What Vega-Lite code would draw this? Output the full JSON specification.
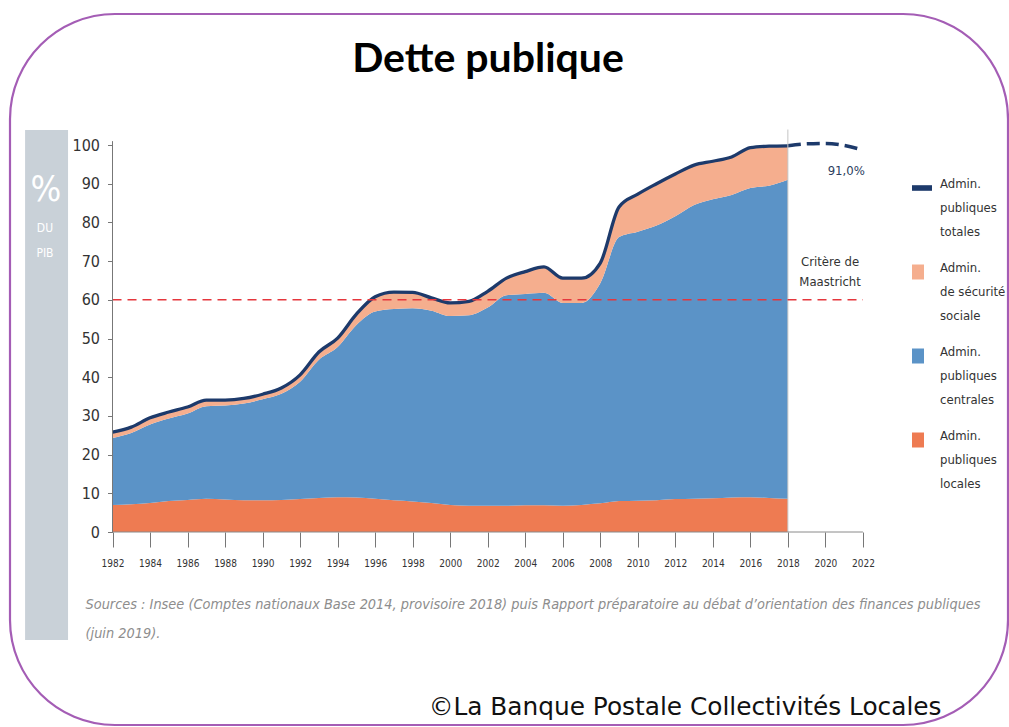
{
  "$schema": "https://vega.github.io/schema/vega-lite/v6.json",
  "width": 998,
  "height": 711,
  "autosize": {"type": "none"},
  "padding": {"left": 10, "top": 14, "right": 1, "bottom": 2},
  "background": "white",
  "title": {
    "text": "Dette publique",
    "font": "Lato",
    "fontSize": 41,
    "fontWeight": "bold",
    "color": "#000000",
    "anchor": "middle",
    "frame": "group",
    "offset": -67,
    "dx": -21
  },
  "datasets": {
    "debt": [
      {"year": 1982, "locales": 7.0, "publiques_centrales": 17.3, "securite_sociale": 1.5, "total": 25.8},
      {"year": 1983, "locales": 7.2, "publiques_centrales": 18.4, "securite_sociale": 1.5, "total": 27.1},
      {"year": 1984, "locales": 7.5, "publiques_centrales": 20.3, "securite_sociale": 1.7, "total": 29.5},
      {"year": 1985, "locales": 8.0, "publiques_centrales": 21.3, "securite_sociale": 1.7, "total": 31.0},
      {"year": 1986, "locales": 8.3, "publiques_centrales": 22.3, "securite_sociale": 1.7, "total": 32.3},
      {"year": 1987, "locales": 8.6, "publiques_centrales": 23.9, "securite_sociale": 1.6, "total": 34.1},
      {"year": 1988, "locales": 8.4, "publiques_centrales": 24.3, "securite_sociale": 1.4, "total": 34.1},
      {"year": 1989, "locales": 8.2, "publiques_centrales": 25.0, "securite_sociale": 1.3, "total": 34.5},
      {"year": 1990, "locales": 8.2, "publiques_centrales": 26.1, "securite_sociale": 1.3, "total": 35.6},
      {"year": 1991, "locales": 8.3, "publiques_centrales": 27.4, "securite_sociale": 1.5, "total": 37.2},
      {"year": 1992, "locales": 8.5, "publiques_centrales": 30.3, "securite_sociale": 1.8, "total": 40.6},
      {"year": 1993, "locales": 8.8, "publiques_centrales": 35.7, "securite_sociale": 2.0, "total": 46.5},
      {"year": 1994, "locales": 9.0, "publiques_centrales": 38.8, "securite_sociale": 2.3, "total": 50.1},
      {"year": 1995, "locales": 8.9, "publiques_centrales": 44.6, "securite_sociale": 2.8, "total": 56.3},
      {"year": 1996, "locales": 8.6, "publiques_centrales": 48.4, "securite_sociale": 3.8, "total": 60.8},
      {"year": 1997, "locales": 8.2, "publiques_centrales": 49.4, "securite_sociale": 4.4, "total": 62.0},
      {"year": 1998, "locales": 7.9, "publiques_centrales": 49.9, "securite_sociale": 4.1, "total": 61.9},
      {"year": 1999, "locales": 7.5, "publiques_centrales": 49.7, "securite_sociale": 3.3, "total": 60.5},
      {"year": 2000, "locales": 7.0, "publiques_centrales": 48.8, "securite_sociale": 3.4, "total": 59.2},
      {"year": 2001, "locales": 6.8, "publiques_centrales": 49.2, "securite_sociale": 3.6, "total": 59.6},
      {"year": 2002, "locales": 6.8, "publiques_centrales": 51.2, "securite_sociale": 4.2, "total": 62.2},
      {"year": 2003, "locales": 6.8, "publiques_centrales": 54.4, "securite_sociale": 4.4, "total": 65.6},
      {"year": 2004, "locales": 6.9, "publiques_centrales": 54.6, "securite_sociale": 5.8, "total": 67.3},
      {"year": 2005, "locales": 6.9, "publiques_centrales": 54.9, "securite_sociale": 6.7, "total": 68.5},
      {"year": 2006, "locales": 6.8, "publiques_centrales": 52.4, "securite_sociale": 6.4, "total": 65.6},
      {"year": 2007, "locales": 7.0, "publiques_centrales": 52.2, "securite_sociale": 6.4, "total": 65.6},
      {"year": 2008, "locales": 7.4, "publiques_centrales": 56.9, "securite_sociale": 5.2, "total": 69.5},
      {"year": 2009, "locales": 8.0, "publiques_centrales": 68.2, "securite_sociale": 7.8, "total": 84.0},
      {"year": 2010, "locales": 8.1, "publiques_centrales": 69.5, "securite_sociale": 9.7, "total": 87.3},
      {"year": 2011, "locales": 8.2, "publiques_centrales": 71.0, "securite_sociale": 10.8, "total": 90.0},
      {"year": 2012, "locales": 8.5, "publiques_centrales": 73.1, "securite_sociale": 10.9, "total": 92.5},
      {"year": 2013, "locales": 8.6, "publiques_centrales": 75.9, "securite_sociale": 10.3, "total": 94.8},
      {"year": 2014, "locales": 8.7, "publiques_centrales": 77.3, "securite_sociale": 9.8, "total": 95.8},
      {"year": 2015, "locales": 8.9, "publiques_centrales": 78.2, "securite_sociale": 9.8, "total": 96.9},
      {"year": 2016, "locales": 9.0, "publiques_centrales": 79.9, "securite_sociale": 10.4, "total": 99.3},
      {"year": 2017, "locales": 8.8, "publiques_centrales": 80.7, "securite_sociale": 10.2, "total": 99.7},
      {"year": 2018, "locales": 8.6, "publiques_centrales": 82.4, "securite_sociale": 8.8, "total": 99.8}
    ],
    "forecast": [
      {"year": 2018, "total": 99.8},
      {"year": 2019, "total": 100.3},
      {"year": 2020, "total": 100.4},
      {"year": 2021, "total": 99.9},
      {"year": 2022, "total": 98.7}
    ]
  },
  "layer": [
    {
      "data": {"values": [{}]},
      "mark": {"type": "rect", "color": "#c9d1d8"},
      "encoding": {
        "x": {"datum": 1977.34, "type": "quantitative"},
        "x2": {"datum": 1979.63},
        "y": {"datum": 103.9, "type": "quantitative"},
        "y2": {"datum": -27.9}
      }
    },
    {
      "data": {"values": [{}]},
      "mark": {"type": "text", "text": "%", "font": "Liberation Sans Narrow, DejaVu Sans Condensed, Roboto Condensed, Lato, sans-serif", "fontSize": 36, "color": "#ffffff", "align": "center", "baseline": "middle"},
      "encoding": {
        "x": {"datum": 1978.45, "type": "quantitative"},
        "y": {"datum": 88.4, "type": "quantitative"}
      }
    },
    {
      "data": {"values": [{}]},
      "mark": {"type": "text", "text": "DU", "font": "Liberation Sans Narrow, DejaVu Sans Condensed, Roboto Condensed, Lato, sans-serif", "fontSize": 12, "color": "#ffffff", "align": "center", "baseline": "middle"},
      "encoding": {
        "x": {"datum": 1978.4, "type": "quantitative"},
        "y": {"datum": 78.5, "type": "quantitative"}
      }
    },
    {
      "data": {"values": [{}]},
      "mark": {"type": "text", "text": "PIB", "font": "Liberation Sans Narrow, DejaVu Sans Condensed, Roboto Condensed, Lato, sans-serif", "fontSize": 12, "color": "#ffffff", "align": "center", "baseline": "middle"},
      "encoding": {
        "x": {"datum": 1978.4, "type": "quantitative"},
        "y": {"datum": 72.1, "type": "quantitative"}
      }
    },
    {
      "data": {"name": "debt"},
      "transform": [{"fold": ["locales", "publiques_centrales", "securite_sociale"], "as": ["series", "value"]}],
      "mark": {"type": "area", "interpolate": "monotone", "opacity": 1},
      "encoding": {
        "x": {
          "field": "year",
          "type": "quantitative",
          "scale": {"domain": [1976.536, 2029.734], "nice": false, "zero": false},
          "axis": {
            "values": [1982, 1983, 1984, 1985, 1986, 1987, 1988, 1989, 1990, 1991, 1992, 1993, 1994, 1995, 1996, 1997, 1998, 1999, 2000, 2001, 2002, 2003, 2004, 2005, 2006, 2007, 2008, 2009, 2010, 2011, 2012, 2013, 2014, 2015, 2016, 2017, 2018, 2019, 2020, 2021, 2022],
            "format": "d",
            "labelExpr": "datum.value % 2 === 0 ? datum.label : ''",
            "offset": -193,
            "domain": false,
            "grid": false,
            "tickSize": {"condition": {"test": "datum.value % 2 === 0", "value": 15}, "value": 10},
            "tickColor": "#777777",
            "labelFont": "Liberation Sans Narrow, DejaVu Sans Condensed, Roboto Condensed, Lato, sans-serif",
            "labelFontSize": 10,
            "labelColor": "#333333",
            "labelPadding": 11,
            "labelFlush": false,
            "labelOverlap": false,
            "title": ["Sources : Insee (Comptes nationaux Base 2014, provisoire 2018) puis Rapport préparatoire au débat d’orientation des finances publiques", "(juin 2019)."],
            "titleX": 75,
            "titleY": 76,
            "titleAlign": "left",
            "titleAnchor": "start",
            "titleBaseline": "alphabetic",
            "titleFont": "Liberation Sans Narrow, DejaVu Sans Condensed, Roboto Condensed, Lato, sans-serif",
            "titleFontSize": 14.4,
            "titleFontStyle": "italic",
            "titleFontWeight": "normal",
            "titleColor": "#8d8d8d",
            "titleLineHeight": 29
          }
        },
        "y": {
          "field": "value",
          "type": "quantitative",
          "stack": "zero",
          "scale": {"domain": [-49.87, 133.85], "nice": false, "zero": false},
          "axis": {
            "values": [0, 10, 20, 30, 40, 50, 60, 70, 80, 90, 100],
            "offset": -102.5,
            "domain": false,
            "grid": false,
            "tickSize": 5,
            "tickColor": "#777777",
            "labelFont": "Liberation Sans Narrow, DejaVu Sans Condensed, Roboto Condensed, Lato, sans-serif",
            "labelFontSize": 16,
            "labelColor": "#333333",
            "labelPadding": 8,
            "title": null
          }
        },
        "color": {
          "field": "series",
          "type": "nominal",
          "scale": {
            "domain": ["totales", "securite_sociale", "publiques_centrales", "locales"],
            "range": ["#1d3a6b", "#f5ae8e", "#5b93c7", "#ee7b52"]
          },
          "legend": {
            "orient": "none",
            "legendX": 902,
            "legendY": 164,
            "title": null,
            "labelExpr": "datum.label === 'totales' ? ['Admin.', 'publiques', 'totales'] : datum.label === 'securite_sociale' ? ['Admin.', 'de sécurité', 'sociale'] : datum.label === 'publiques_centrales' ? ['Admin.', 'publiques', 'centrales'] : ['Admin.', 'publiques', 'locales']",
            "labelFont": "Liberation Sans Narrow, DejaVu Sans Condensed, Roboto Condensed, Lato, sans-serif",
            "labelFontSize": 13,
            "labelColor": "#333333",
            "labelBaseline": "alphabetic",
            "labelOffset": 8,
            "symbolSize": 400,
            "symbolStrokeWidth": 0,
            "symbolType": {"expr": "datum.value === 'totales' ? 'M-1,-0.28H1V0.28H-1Z' : 'M-1,-0.75H0.2V0.75H-1Z'"},
            "rowPadding": 23
          }
        },
        "order": {"field": "series", "sort": "ascending"}
      }
    },
    {
      "data": {"name": "debt"},
      "mark": {"type": "line", "interpolate": "monotone", "strokeWidth": 3.3, "color": "#1d3a6b"},
      "encoding": {
        "x": {"field": "year", "type": "quantitative"},
        "y": {"field": "total", "type": "quantitative"}
      }
    },
    {
      "data": {"name": "forecast"},
      "mark": {"type": "line", "interpolate": "monotone", "strokeWidth": 3.5, "strokeDash": [13, 6], "color": "#1d3a6b"},
      "encoding": {
        "x": {"field": "year", "type": "quantitative"},
        "y": {"field": "total", "type": "quantitative"}
      }
    },
    {
      "data": {"values": [{}]},
      "mark": {"type": "rule", "color": "#c4c4c4", "strokeWidth": 1},
      "encoding": {
        "x": {"datum": 2018, "type": "quantitative"},
        "y": {"datum": 0, "type": "quantitative"},
        "y2": {"datum": 104}
      }
    },
    {
      "data": {"values": [{}]},
      "mark": {"type": "rule", "color": "#e5373d", "strokeWidth": 1.6, "strokeDash": [9, 6]},
      "encoding": {
        "x": {"datum": 1982, "type": "quantitative"},
        "x2": {"datum": 2022},
        "y": {"datum": 60, "type": "quantitative"}
      }
    },
    {
      "data": {"values": [{}]},
      "mark": {"type": "rule", "color": "#777777", "strokeWidth": 1},
      "encoding": {
        "x": {"datum": 1982, "type": "quantitative"},
        "y": {"datum": 0, "type": "quantitative"},
        "y2": {"datum": 101}
      }
    },
    {
      "data": {"values": [{}]},
      "mark": {"type": "rule", "color": "#8a8a8a", "strokeWidth": 1},
      "encoding": {
        "x": {"datum": 1982, "type": "quantitative"},
        "x2": {"datum": 2022},
        "y": {"datum": 0, "type": "quantitative"}
      }
    },
    {
      "data": {"values": [{}]},
      "mark": {"type": "text", "text": ["Critère de", "Maastricht"], "font": "Liberation Sans Narrow, DejaVu Sans Condensed, Roboto Condensed, Lato, sans-serif", "fontSize": 13, "lineHeight": 20, "color": "#333333", "align": "center", "baseline": "top"},
      "encoding": {
        "x": {"datum": 2020.25, "type": "quantitative"},
        "y": {"datum": 71.3, "type": "quantitative"}
      }
    },
    {
      "data": {"values": [{}]},
      "mark": {"type": "text", "text": "91,0%", "font": "Liberation Sans Narrow, DejaVu Sans Condensed, Roboto Condensed, Lato, sans-serif", "fontSize": 13, "color": "#2c3e60", "align": "right", "baseline": "middle"},
      "encoding": {
        "x": {"datum": 2022.1, "type": "quantitative"},
        "y": {"datum": 93.3, "type": "quantitative"}
      }
    },
    {
      "data": {"values": [{}]},
      "mark": {"type": "text", "text": "©La Banque Postale Collectivités Locales", "font": "DejaVu Sans", "fontSize": 24.8, "color": "#111111", "align": "center", "baseline": "middle"},
      "encoding": {
        "x": {"datum": 2012.52, "type": "quantitative"},
        "y": {"datum": -45.5, "type": "quantitative"}
      }
    }
  ],
  "config": {
    "view": {"stroke": "#a45db5", "strokeWidth": 2.2, "cornerRadius": 105, "fill": "white"},
    "axis": {"grid": false},
    "style": {"guide-label": {"lineHeight": 24}}
  }
}
